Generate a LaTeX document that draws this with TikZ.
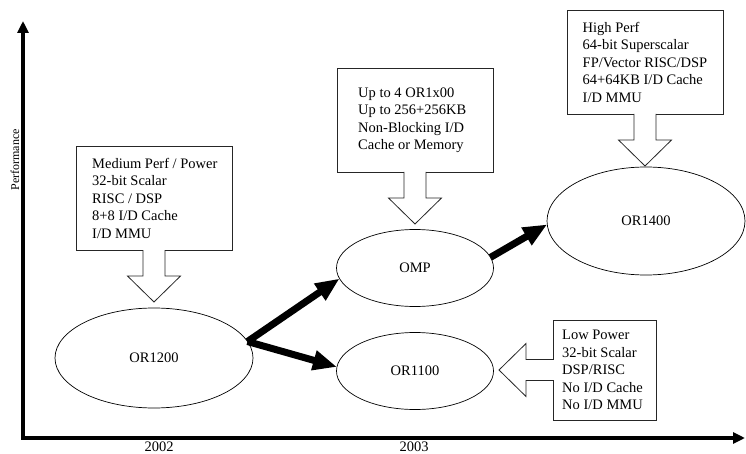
\documentclass[tikz,border=0pt]{standalone}
\usepackage{fontspec}
\setmainfont{Liberation Serif}
\usetikzlibrary{arrows.meta,shapes.geometric}
\begin{document}
\begin{tikzpicture}[x=1pt,y=-1pt,
  every node/.style={font=\fontsize{14.5}{17.5}\selectfont},
  infobox/.style={draw=black!85, line width=0.8pt, minimum height=104pt, inner sep=0pt, outer sep=0pt},
  infotext/.style={anchor=west, align=left, inner sep=0pt},
  chip/.style={draw, ellipse, line width=0.7pt, inner sep=0pt, outer sep=0pt},
  hollow/.style={draw=black!85, line width=0.8pt, line join=miter},
  evolve/.style={line width=7pt, -{Triangle[length=24pt,width=19pt]}},
  axis/.style={line width=3.5pt, line join=miter, {Triangle[length=12pt,width=11pt]}-{Triangle[length=12pt,width=11pt]}},
  axlabel/.style={inner sep=0pt}
]
\useasboundingbox (0,0) rectangle (746,454);

% axes
\coordinate (ytop) at (23,21);
\coordinate (orig) at (23,438);
\coordinate (xend) at (745,438);
\draw[axis] (ytop) -- (orig) -- (xend);
\node[axlabel, rotate=90, font=\fontsize{12}{14}\selectfont] (perf) at (15,160) {Performance};
\node[axlabel] (y2002) at (159,447) {2002};
\node[axlabel] (y2003) at (414,447) {2003};

% ellipses
\node[chip, minimum width=198pt, minimum height=100pt] (or1200) at (154,358) {OR1200};
\node[chip, minimum width=157pt, minimum height=77pt] (omp) at (415,268) {OMP};
\node[chip, minimum width=157pt, minimum height=77pt] (or1100) at (415,371) {OR1100};
\node[chip, minimum width=198pt, minimum height=108pt] (or1400) at (646,221) {OR1400};

% evolution arrows
\draw[evolve] (or1200.10) -- (omp.188);
\draw[evolve] (or1200.10) -- (or1100.177);
\draw[evolve] (omp.8) -- (or1400.182);

% boxes
\node[infobox, minimum width=156pt] (b1) at (154,198) {};
\node[infotext] (t1) at ([xshift=16pt]b1.west) {Medium Perf / Power\\32-bit Scalar\\RISC / DSP\\8+8 I/D Cache\\I/D MMU};
\node[infobox, minimum width=156pt] (b2) at (415,120) {};
\node[infotext] (t2) at ([xshift=21pt]b2.west) {Up to 4 OR1x00\\Up to 256+256KB\\Non-Blocking I/D\\Cache or Memory};
\node[infobox, minimum width=156pt] (b3) at (645,62) {};
\node[infotext] (t3) at ([xshift=15.5pt]b3.west) {High Perf\\64-bit Superscalar\\FP/Vector RISC/DSP\\64+64KB I/D Cache\\I/D MMU};
\node[infobox, minimum width=103pt, minimum height=100pt] (b4) at (604.5,370) {};
\node[infotext] (t4) at ([xshift=9pt]b4.west) {Low Power\\32-bit Scalar\\DSP/RISC\\No I/D Cache\\No I/D MMU};

% hollow block arrows
\fill[white] ([xshift=-10.6pt,yshift=1pt]b1.south) rectangle ([xshift=10.6pt,yshift=-1pt]b1.south);
\draw[hollow] ([xshift=-11pt]b1.south) -- ++(0,26) -- ++(-15.5,0) -- ++(26.5,26) -- ++(26.5,-26) -- ++(-15.5,0) -- ++(0,-26);
\fill[white] ([xshift=-10.6pt,yshift=1pt]b2.south) rectangle ([xshift=10.6pt,yshift=-1pt]b2.south);
\draw[hollow] ([xshift=-11pt]b2.south) -- ++(0,26) -- ++(-15.5,0) -- ++(26.5,26) -- ++(26.5,-26) -- ++(-15.5,0) -- ++(0,-26);
\fill[white] ([xshift=-10.6pt,yshift=1pt]b3.south) rectangle ([xshift=10.6pt,yshift=-1pt]b3.south);
\draw[hollow] ([xshift=-11pt]b3.south) -- ++(0,26) -- ++(-15.5,0) -- ++(26.5,26) -- ++(26.5,-26) -- ++(-15.5,0) -- ++(0,-26);
\fill[white] ([xshift=-1pt,yshift=10.1pt]b4.west) rectangle ([xshift=1pt,yshift=-10.1pt]b4.west);
\draw[hollow] ([yshift=10.5pt]b4.west) -- ++(-27,0) -- ++(0,-16) -- ++(-27,26.5) -- ++(27,26.5) -- ++(0,-16) -- ++(27,0);
\end{tikzpicture}
\end{document}
